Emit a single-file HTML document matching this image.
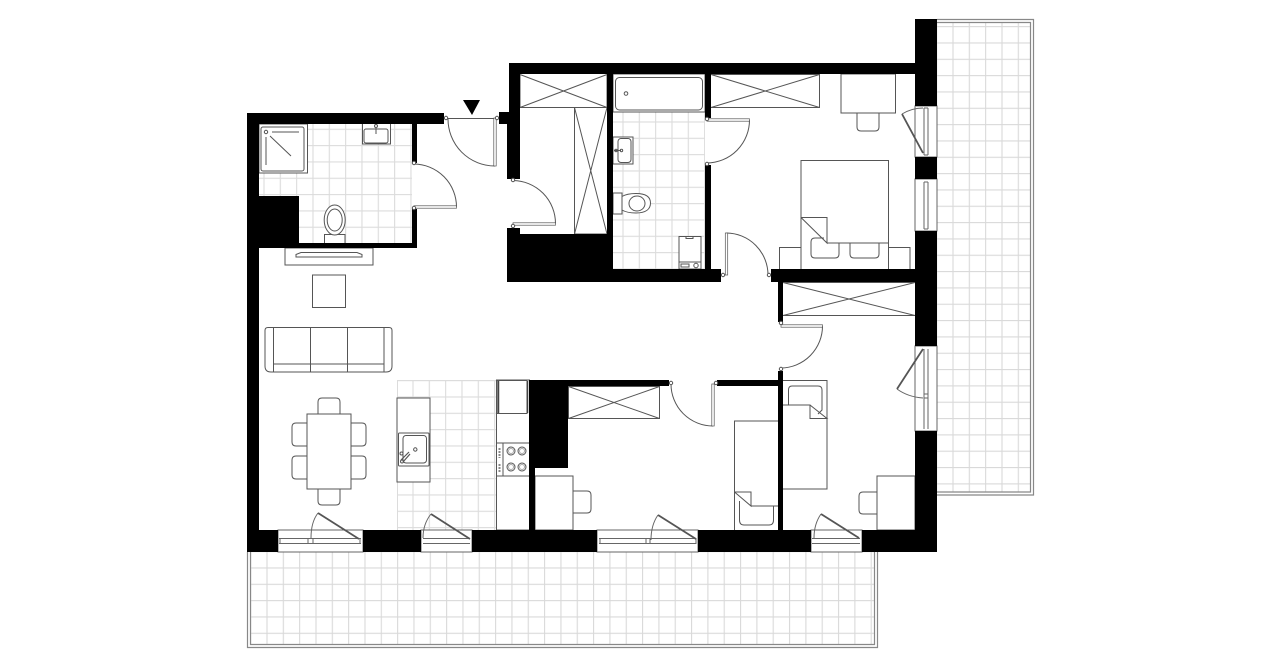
<!DOCTYPE html>
<html><head><meta charset="utf-8"><title>Floor plan</title>
<style>html,body{margin:0;padding:0;background:#fff}svg{display:block}</style></head>
<body>
<svg xmlns="http://www.w3.org/2000/svg" width="1280" height="667" viewBox="0 0 1280 667">
<defs>
<pattern id="pR" patternUnits="userSpaceOnUse" x="945" y="35" width="16.33" height="16.33"><path d="M8 0V16.33M0 8H16.33" stroke="#d9d9d9" stroke-width="1.1" fill="none"/></pattern>
<pattern id="pB" patternUnits="userSpaceOnUse" x="259" y="560" width="16.33" height="16.33"><path d="M8 0V16.33M0 8H16.33" stroke="#d9d9d9" stroke-width="1.1" fill="none"/></pattern>
<pattern id="p1" patternUnits="userSpaceOnUse" x="256" y="121.3" width="16.33" height="16.33"><path d="M8 0V16.33M0 8H16.33" stroke="#dcdcdc" stroke-width="1.1" fill="none"/></pattern>
<pattern id="p2" patternUnits="userSpaceOnUse" x="615" y="114" width="16.33" height="16.33"><path d="M8 0V16.33M0 8H16.33" stroke="#dcdcdc" stroke-width="1.1" fill="none"/></pattern>
<pattern id="pK" patternUnits="userSpaceOnUse" x="405" y="389" width="16.33" height="16.33"><path d="M8 0V16.33M0 8H16.33" stroke="#dcdcdc" stroke-width="1.1" fill="none"/></pattern>
</defs>

<!-- tiled floors -->
<rect x="937" y="22" width="94" height="470" fill="url(#pR)"/>
<rect x="250" y="552" width="625" height="92" fill="url(#pB)"/>
<rect x="259" y="124" width="153" height="119" fill="url(#p1)"/>
<rect x="613" y="112" width="92" height="157" fill="url(#p2)"/>
<rect x="397" y="380" width="99" height="150" fill="url(#pK)"/>
<path d="M397.5 380V530M397 380.5H496" stroke="#dcdcdc" fill="none"/>

<!-- terrace rails -->
<path d="M937 19.5H1033.5V495H937M937 22.5H1030.5V492H937" fill="none" stroke="#888" stroke-width="1.2"/>
<path d="M247.5 552V647.5H877.5V552M250.5 552V644.5H874.5V552" fill="none" stroke="#888" stroke-width="1.2"/>

<g fill="none" stroke="#555" stroke-width="1">
<!-- closets -->
<g fill="#fff">
<path d="M520 74.5V107.5H607V74.5M520 74.5L607 107.5M607 74.5L520 107.5"/>
<path d="M574.5 107.5V234H607M574.5 107.5L607 234M607 107.5L574.5 234"/>
<path d="M711 74.5H819.5V107.5H711M711 107.5L819.5 74.5M711 74.5L819.5 107.5"/>
<path d="M568.5 386.5H659.5V418.5H568.5ZM568.5 386.5L659.5 418.5M659.5 386.5L568.5 418.5"/>
<path d="M783 282.5H915M783 315.5H915M783 315.5L915 282.5M783 282.5L915 315.5"/>
</g>

<!-- bath 1 -->
<rect x="259" y="124" width="48.5" height="49" fill="#fff"/>
<rect x="261" y="127" width="43" height="44" rx="2" fill="#fff"/>
<circle cx="266" cy="132" r="1.7"/>
<path d="M272 132H299M266 137V165M270 136L291 156"/>
<path d="M362.5 124V144H390.5V124" fill="#fff"/>
<rect x="364" y="129" width="24" height="14" rx="2" fill="#fff"/>
<circle cx="376" cy="126" r="1.5"/><path d="M376 128V134"/>
<rect x="324.500" y="234.500" width="20.500" height="9" fill="#fff"/>
<ellipse cx="334.700" cy="220" rx="10.500" ry="15" fill="#fff"/>
<ellipse cx="334.700" cy="220" rx="7.500" ry="11"/>

<!-- TV and table -->
<rect x="285" y="248" width="88" height="17" fill="#fff"/>
<path d="M296 257V254.500L301 252.500H357L362 254.500V257Z"/>
<rect x="312.500" y="275" width="33" height="32.500"/>

<!-- sofa -->
<path d="M268 327.500H389Q392 327.500 392 330.500V366Q392 372 386 372H271Q265 372 265 366V330.500Q265 327.500 268 327.500Z"/>
<path d="M273.500 327.500V372M310.500 327.500V372M347.500 327.500V372M384 327.500V372M273.500 364H384"/>

<!-- dining -->
<rect x="307" y="414" width="44" height="75"/>
<path d="M318 414V402Q318 398 322 398H336Q340 398 340 402V414M318 489V501Q318 505 322 505H336Q340 505 340 501V489"/>
<path d="M307 423H296Q292 423 292 427V442Q292 446 296 446H307M307 456H296Q292 456 292 460V475Q292 479 296 479H307"/>
<path d="M351 423H362Q366 423 366 427V442Q366 446 362 446H351M351 456H362Q366 456 366 460V475Q366 479 362 479H351"/>

<!-- kitchen island -->
<rect x="397" y="398" width="33" height="84" fill="#fff"/>
<rect x="398.500" y="433" width="30.500" height="33" rx="1" fill="#fff"/>
<rect x="403" y="435.500" width="23.500" height="27.500" rx="3"/>
<circle cx="415.300" cy="449.500" r="1.700"/>
<path d="M401 460L409 452M403 462L410 454" stroke-width="1.200"/>
<circle cx="401.500" cy="453.500" r="1.500"/><circle cx="402" cy="461.500" r="1.500"/>

<!-- kitchen counter -->
<rect x="496.500" y="380" width="33" height="150" fill="#fff"/>
<rect x="497" y="380.500" width="30" height="33" fill="#fff"/>
<path d="M498.500 381V413M527.500 381V413" stroke-width="1.500" stroke="#444"/>
<rect x="496.500" y="443" width="33" height="33" fill="#fff"/>
<path d="M503 443V476"/>
<circle cx="511" cy="451" r="4"/><circle cx="522" cy="451" r="4"/><circle cx="511" cy="467" r="4"/><circle cx="522" cy="467" r="4"/>
<circle cx="511" cy="451" r="2.500" stroke="#aaa"/><circle cx="522" cy="451" r="2.500" stroke="#aaa"/><circle cx="511" cy="467" r="2.500" stroke="#aaa"/><circle cx="522" cy="467" r="2.500" stroke="#aaa"/>
<path d="M499.500 448V458M499.500 464V472" stroke-dasharray="2 1" stroke-width="2" stroke="#888"/>

<!-- bath 2 -->
<rect x="613" y="74" width="92" height="38" fill="#fff"/>
<rect x="615.500" y="77.500" width="87" height="32.500" rx="4" fill="#fff"/>
<circle cx="626" cy="93.500" r="1.800"/>
<rect x="613" y="137" width="20" height="27" fill="#fff"/>
<rect x="618" y="138.500" width="13" height="24" rx="3"/>
<path d="M614 150.500H621"/><circle cx="616" cy="150.500" r="1.200"/><circle cx="621.500" cy="150.500" r="1.200"/>
<rect x="613" y="193" width="9" height="21" fill="#fff"/>
<path d="M622 196.500Q627 193.500 636 193.500C646 193.500 650.500 197 650.500 203S646 213 636 213Q627 213 622 210Z" fill="#fff"/>
<ellipse cx="637" cy="203.500" rx="8" ry="7.500"/>
<rect x="679" y="236.500" width="22" height="32.500" fill="#fff"/>
<path d="M679 262H701M686 236.500V238.500H693V236.500"/>
<rect x="681" y="264" width="8" height="3"/><circle cx="696" cy="265.500" r="2.200"/>

<!-- bedroom 1 -->
<rect x="841" y="74" width="54.500" height="39"/>
<path d="M857 113V127Q857 131 861 131H875Q879 131 879 127V113"/>
<path d="M801 269V160.500H888.500V269M827 243H888.500"/>
<path d="M801 217.500H827V243L801 217.500"/>
<path d="M824 238H815Q811 238 811 242V254Q811 258 815 258H835Q839 258 839 254V243"/>
<path d="M850 243V254Q850 258 854 258H875Q879 258 879 254V243"/>
<path d="M801 247.500H779.500V269M888.500 247.500H910V269"/>

<!-- bedroom 2 -->
<rect x="535" y="476" width="38" height="54"/>
<path d="M573 491H587Q591 491 591 495V509Q591 513 587 513H573"/>
<path d="M778 421H734.500V530"/>
<path d="M734.500 492H751V506L734.500 492M751 506H778"/>
<path d="M739.500 501V520Q739.500 525 744 525H769Q773.500 525 773.500 520V506"/>

<!-- bedroom 3 -->
<path d="M783 380.500H827V489H783M783 405H810V418.500H827L810 405"/>
<path d="M788.500 405V390Q788.500 386 792 386H818Q822 386 822 390V410L818 414"/>
<rect x="877" y="476" width="38" height="54"/>
<path d="M877 492H863Q859 492 859 496V510Q859 514 863 514H877"/>

<!-- door arcs -->
<path d="M446 118.500H498M448 118.500A47 47 0 0 0 495 166"/>
<path d="M414 164A43 43 0 0 1 456.500 207"/>
<path d="M513 180.500A43 43 0 0 1 555.500 223.500"/>
<path d="M749.500 120A43 43 0 0 1 707 163"/>
<path d="M726.500 233A42 42 0 0 1 768 275"/>
<path d="M822.500 326A42 42 0 0 1 781 368"/>
<path d="M671 384A42 42 0 0 0 713 426"/>
</g>

<!-- door leaves -->
<g fill="#fff" stroke="#555" stroke-width=".7">
<rect x="493.800" y="118" width="2.400" height="48"/>
<rect x="414" y="205.800" width="42.500" height="2.400"/>
<rect x="513" y="222.800" width="42.500" height="2.400"/>
<rect x="707" y="118.800" width="42.500" height="2.400"/>
<rect x="725.300" y="233" width="2.400" height="42"/>
<rect x="781" y="324.800" width="41.500" height="2.400"/>
<rect x="711.800" y="384" width="2.400" height="42"/>
</g>

<!-- windows -->
<g fill="#fff" stroke="#666" stroke-width="1">
<rect x="278" y="530" width="85" height="22"/>
<rect x="421" y="530" width="51" height="22"/>
<rect x="597" y="530" width="101" height="22"/>
<rect x="811" y="530" width="51" height="22"/>
<rect x="915" y="106" width="22" height="51"/>
<rect x="915" y="179" width="22" height="52"/>
<rect x="915" y="346" width="22" height="85"/>
</g>
<g fill="none" stroke="#666" stroke-width="1">
<path d="M279 538.500H361M279 543.500H361M280 538V544M360 538V544M308 538V544M313 538V544"/>
<path d="M423 538.500H470M423 543.500H470"/>
<path d="M599 538.500H696M599 543.500H696M600 538V544M646 538V544M650 538V544M696 538V544"/>
<path d="M812 538.500H860M812 543.500H860"/>
<path d="M924 108V155M928 108V155M924 108H928M924 155H928"/>
<path d="M924 182V229M928 182V229M924 182H928M924 229H928"/>
<path d="M924 349V429M928 349V429M924 394H928M924 398H928"/>
<!-- swing arcs -->
<path d="M311 538Q311 522 318 513"/>
<path d="M423 538Q423 524 431 514"/>
<path d="M651 540Q651 525 658 515"/>
<path d="M814 538Q814 524 821 514"/>
<path d="M902 114Q912 108 923 108"/>
<path d="M897 389Q908 397 923 398"/>
</g>
<g fill="none" stroke="#555" stroke-width="1.800">
<path d="M359 539L318 513"/>
<path d="M470 539L431 514"/>
<path d="M696 539L658 515"/>
<path d="M859 538L821 514"/>
<path d="M923 153L902 114"/>
<path d="M923 349L897 389"/>
</g>

<!-- walls -->
<g fill="#000">
<rect x="247" y="113" width="197" height="11"/>
<rect x="247" y="113" width="12" height="439"/>
<rect x="412" y="124" width="5" height="39"/>
<rect x="412" y="209" width="5" height="39"/>
<rect x="259" y="243" width="158" height="5"/>
<rect x="259" y="196" width="40" height="47"/>
<rect x="499" y="112" width="12" height="12"/>
<rect x="509" y="63" width="11" height="60"/>
<rect x="507" y="112" width="13" height="67"/>
<rect x="509" y="63" width="406" height="11"/>
<rect x="607" y="74" width="6" height="195"/>
<rect x="507" y="234" width="106" height="48"/>
<rect x="507" y="228" width="13" height="8"/>
<rect x="507" y="269" width="214" height="13"/>
<rect x="705" y="74" width="6" height="44"/>
<rect x="705" y="165" width="6" height="104"/>
<rect x="771" y="269" width="144" height="13"/>
<rect x="915" y="19" width="22" height="87"/>
<rect x="915" y="157" width="22" height="22"/>
<rect x="915" y="231" width="22" height="115"/>
<rect x="915" y="431" width="22" height="121"/>
<rect x="778" y="282" width="5" height="40"/>
<rect x="778" y="371" width="5" height="159"/>
<rect x="529" y="380" width="140" height="6"/>
<rect x="717" y="380" width="61" height="6"/>
<rect x="529" y="380" width="39" height="88"/>
<rect x="529" y="468" width="6" height="62"/>
<rect x="247" y="530" width="31" height="22"/>
<rect x="363" y="530" width="58" height="22"/>
<rect x="472" y="530" width="125" height="22"/>
<rect x="698" y="530" width="113" height="22"/>
<rect x="862" y="530" width="75" height="22"/>
<path d="M463 100H480L472 115Z"/>
</g>

<!-- door jambs -->
<g fill="#fff" stroke="#555" stroke-width="1">
<circle cx="446" cy="118" r="1.700"/><circle cx="497" cy="118" r="1.700"/>
<circle cx="414" cy="163" r="1.700"/><circle cx="414" cy="208" r="1.700"/>
<circle cx="513" cy="180" r="1.700"/><circle cx="513" cy="226" r="1.700"/>
<circle cx="707" cy="119" r="1.700"/><circle cx="707" cy="164" r="1.700"/>
<circle cx="723" cy="275" r="1.700"/><circle cx="769" cy="275" r="1.700"/>
<circle cx="781" cy="323" r="1.700"/><circle cx="781" cy="369" r="1.700"/>
<circle cx="671" cy="383" r="1.700"/><circle cx="716" cy="383" r="1.700"/>
</g>
</svg>
</body></html>
